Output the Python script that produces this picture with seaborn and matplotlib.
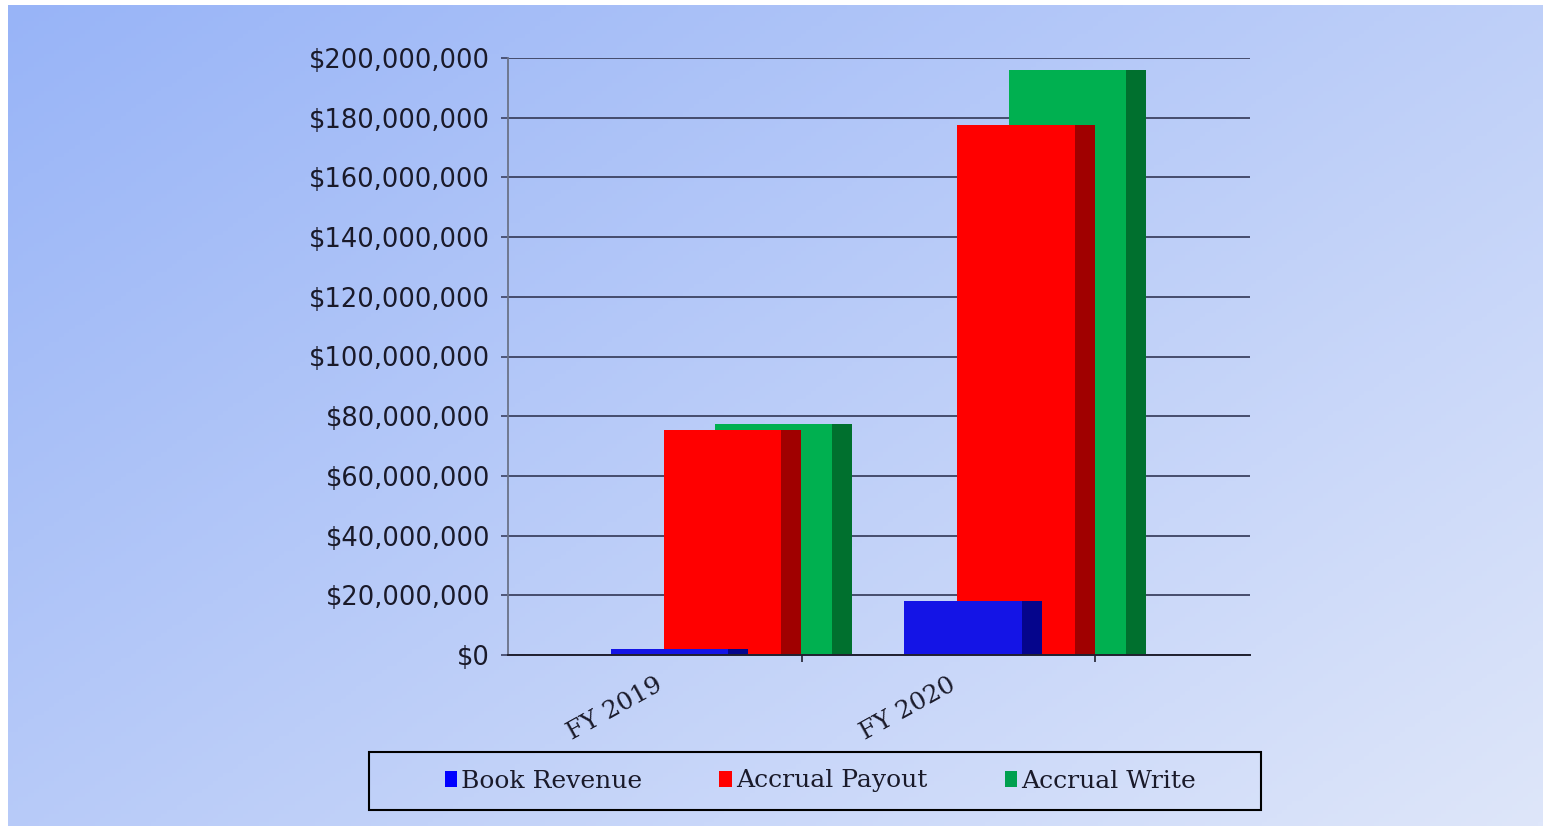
import numpy as np
import pandas as pd
import matplotlib
matplotlib.use("Agg")
import matplotlib.pyplot as plt
import seaborn as sns
from matplotlib.patches import Patch, Rectangle
from matplotlib.ticker import FuncFormatter, FixedLocator

# data
categories = ["FY 2019", "FY 2020"]
series = ["Book Revenue", "Accrual Payout", "Accrual Write"]
book_revenue = [2_000_000, 18_000_000]
accrual_payout = [75_500_000, 177_500_000]
accrual_write = [77_300_000, 196_000_000]

front_colors = {"Book Revenue": "#1414e6", "Accrual Payout": "#ff0000", "Accrual Write": "#00b050"}
side_colors = {"Book Revenue": "#05058c", "Accrual Payout": "#a00000", "Accrual Write": "#00702e"}
legend_colors = {"Book Revenue": "#0000ff", "Accrual Payout": "#ff0000", "Accrual Write": "#00a050"}

# position of each series inside a category (fraction of category width)
offsets = {"Book Revenue": 0.55, "Accrual Payout": 0.73, "Accrual Write": 0.905}
bar_w = 0.40
depth = 0.068

rows = []
for name, vals in zip(series, [book_revenue, accrual_payout, accrual_write]):
    for i, v in enumerate(vals):
        rows.append({"series": name, "cat": i, "value": v})
df = pd.DataFrame(rows)

sns.set_style("white")
plt.rcParams["font.family"] = ["DejaVu Serif"]

W, H = 1543, 826
fig = plt.figure(figsize=(W / 100, H / 100), dpi=100)
fig.patch.set_facecolor("white")

# gradient background
bg = fig.add_axes([8 / W, 0, 1 - 8 / W, 1 - 5 / H], zorder=-5)
gx, gy = np.meshgrid(np.linspace(0, 1, 300), np.linspace(0, 1, 200))
t = np.clip(0.55 * gx + 0.45 * gy, 0, 1)
c0 = np.array([152, 180, 247]) / 255
c1 = np.array([222, 230, 250]) / 255
img = c0[None, None, :] * (1 - t[..., None]) + c1[None, None, :] * t[..., None]
bg.imshow(img, aspect="auto", extent=[0, 1, 0, 1], origin="upper")
bg.axis("off")

ax = fig.add_axes([508 / W, 1 - 655 / H, (1250 - 508) / W, (655 - 58) / H])
ax.set_facecolor("none")

# back to front: green, red, blue
for name in ["Accrual Write", "Accrual Payout", "Book Revenue"]:
    sub = df[df["series"] == name].copy()
    sub["x_front"] = sub["cat"] + offsets[name]
    sub["x_side"] = sub["cat"] + offsets[name] + bar_w / 2 + depth / 2
    sns.barplot(data=sub, x="x_side", y="value", native_scale=True, width=depth,
                color=side_colors[name], saturation=1, errorbar=None, linewidth=0, ax=ax)
    sns.barplot(data=sub, x="x_front", y="value", native_scale=True, width=bar_w,
                color=front_colors[name], saturation=1, errorbar=None, linewidth=0, ax=ax)

ax.set_xlim(0, (1250 - 508) / 293.6)
ax.set_ylim(0, 200_000_000)
ax.set_xlabel("")
ax.set_ylabel("")

ax.set_yticks(np.arange(0, 200_000_001, 20_000_000))
ax.yaxis.set_major_formatter(FuncFormatter(lambda v, p: f"${v:,.0f}"))
ax.grid(axis="y", color="#3c4262", linewidth=1.3)
ax.grid(axis="x", visible=False)
ax.set_axisbelow(True)

ax.xaxis.set_major_locator(FixedLocator([0.5, 1.5]))
ax.set_xticklabels(categories)
ax.xaxis.set_minor_locator(FixedLocator([1, 2]))
ax.tick_params(axis="x", which="major", length=0, pad=13, labelsize=18, labelcolor="#1a1a2a")
ax.tick_params(axis="x", which="minor", length=5, width=1.2, color="#202030", bottom=True)
ax.tick_params(axis="y", length=5, width=1.2, color="#3c4262", labelsize=18.5,
               labelcolor="#1a1a2a", left=True, pad=8)
for lab in ax.get_yticklabels():
    lab.set_family(["DejaVu Sans"])
for lab in ax.get_xticklabels():
    lab.set_rotation(29)
    lab.set_ha("right")
    lab.set_va("top")
    lab.set_rotation_mode("anchor")

for side in ["top", "right"]:
    ax.spines[side].set_visible(False)
ax.spines["left"].set_color("#6a7288")
ax.spines["left"].set_linewidth(1.3)
ax.spines["bottom"].set_color("#202030")
ax.spines["bottom"].set_linewidth(1.4)

# legend box drawn separately, entries centred inside it
fig.patches.append(Rectangle((369 / W, 1 - 810 / H), 892 / W, 58 / H, transform=fig.transFigure,
                             facecolor="none", edgecolor="black", linewidth=1.5))
handles = [Patch(facecolor=legend_colors[s], edgecolor="none", label=s) for s in series]
leg = fig.legend(handles=handles, loc="center", ncol=3,
                 bbox_to_anchor=(820 / W, 1 - 781 / H),
                 fontsize=18, frameon=False, handlelength=0.5,
                 handleheight=0.6, handletextpad=0.15, columnspacing=3.1)
for txt in leg.get_texts():
    txt.set_color("#1a1a2a")

fig.savefig("out.png", dpi=100)
